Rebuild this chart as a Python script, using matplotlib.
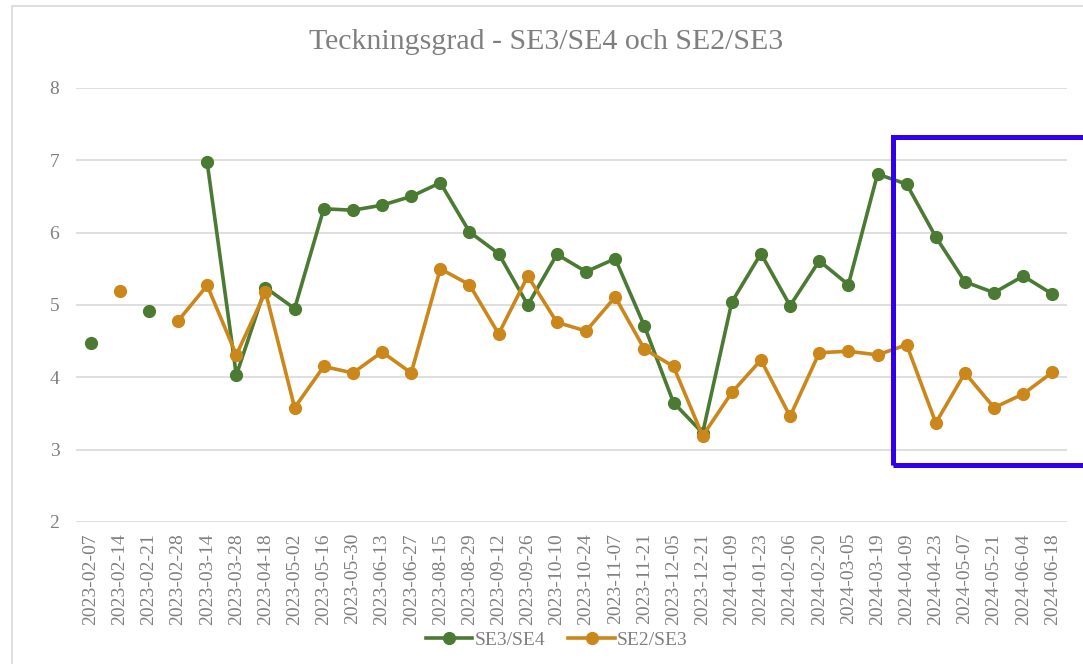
"""Teckningsgrad SE3/SE4 och SE2/SE3 - line chart with highlight box."""
import numpy as np
import matplotlib.pyplot as plt
from matplotlib.patches import Rectangle

nan = np.nan

dates = [
    "2023-02-07", "2023-02-14", "2023-02-21", "2023-02-28", "2023-03-14",
    "2023-03-28", "2023-04-18", "2023-05-02", "2023-05-16", "2023-05-30",
    "2023-06-13", "2023-06-27", "2023-08-15", "2023-08-29", "2023-09-12",
    "2023-09-26", "2023-10-10", "2023-10-24", "2023-11-07", "2023-11-21",
    "2023-12-05", "2023-12-21", "2024-01-09", "2024-01-23", "2024-02-06",
    "2024-02-20", "2024-03-05", "2024-03-19", "2024-04-09", "2024-04-23",
    "2024-05-07", "2024-05-21", "2024-06-04", "2024-06-18",
]
se3_se4 = [
    4.48, nan, 4.91, nan, 6.97, 4.03, 5.24, 4.95, 6.33, 6.31,
    6.38, 6.50, 6.69, 6.01, 5.71, 5.00, 5.70, 5.46, 5.64, 4.71,
    3.65, 3.23, 5.04, 5.71, 4.99, 5.61, 5.28, 6.81, 6.67, 5.94,
    5.32, 5.17, 5.40, 5.15,
]
se2_se3 = [
    nan, 5.19, nan, 4.78, 5.27, 4.31, 5.18, 3.58, 4.15, 4.06,
    4.35, 4.06, 5.50, 5.28, 4.60, 5.40, 4.76, 4.64, 5.11, 4.39,
    4.15, 3.19, 3.79, 4.24, 3.46, 4.34, 4.36, 4.31, 4.45, 3.37,
    4.06, 3.58, 3.77, 4.07,
]

GREEN = "#4b7a33"
ORANGE = "#cc871b"
GRAY = "#7f7f7f"
FONT = "Liberation Serif"

fig = plt.figure(figsize=(10.83, 6.64), dpi=100)
fig.patch.set_facecolor("white")
ax = fig.add_axes([0.0702, 0.2139, 0.915, 0.6536])

x = np.arange(len(dates))
ax.plot(x, se3_se4, color=GREEN, linewidth=2.6, marker="o", markersize=8.5,
        label="SE3/SE4", zorder=3)
ax.plot(x, se2_se3, color=ORANGE, linewidth=2.6, marker="o", markersize=8.5,
        label="SE2/SE3", zorder=4)

ax.set_xlim(-0.5, len(dates) - 0.5)
ax.set_ylim(2, 8)
ax.set_yticks(range(2, 9))
ax.set_xticks(x)
ax.set_xticklabels(dates, rotation=90, fontsize=14, color=GRAY, family=FONT)
for lbl in ax.get_yticklabels():
    lbl.set_fontsize(14)
    lbl.set_color(GRAY)
    lbl.set_family(FONT)
ax.tick_params(axis="both", length=0)
ax.tick_params(axis="x", pad=8)
ax.tick_params(axis="y", pad=12)
ax.grid(axis="y", color="#d9d9d9", linewidth=1.2)
ax.set_axisbelow(True)
for s in ax.spines.values():
    s.set_visible(False)

fig.text(0.504, 0.937, "Teckningsgrad - SE3/SE4 och SE2/SE3", ha="center",
         va="center", fontsize=21.5, color=GRAY, family=FONT)

leg = fig.legend(loc="center", bbox_to_anchor=(0.514, 0.036), ncol=2,
                 frameon=False, handlelength=2.4, handletextpad=0.1,
                 columnspacing=1.2, numpoints=1,
                 prop={"family": FONT, "size": 14})
for t in leg.get_texts():
    t.set_color(GRAY)

# outer chart border (light gray)
fig.add_artist(Rectangle((0.0111, -0.1), 1.2, 1.091, transform=fig.transFigure,
                         fill=False, edgecolor="#d9d9d9", linewidth=1.2))
# blue highlight box
fig.add_artist(Rectangle((0.8243, 0.2997), 0.2, 0.4943, transform=fig.transFigure,
                         fill=False, edgecolor="#3000ee", linewidth=3.6,
                         zorder=10))

plt.savefig("out.png", dpi=100, facecolor="white")
plt.close()
